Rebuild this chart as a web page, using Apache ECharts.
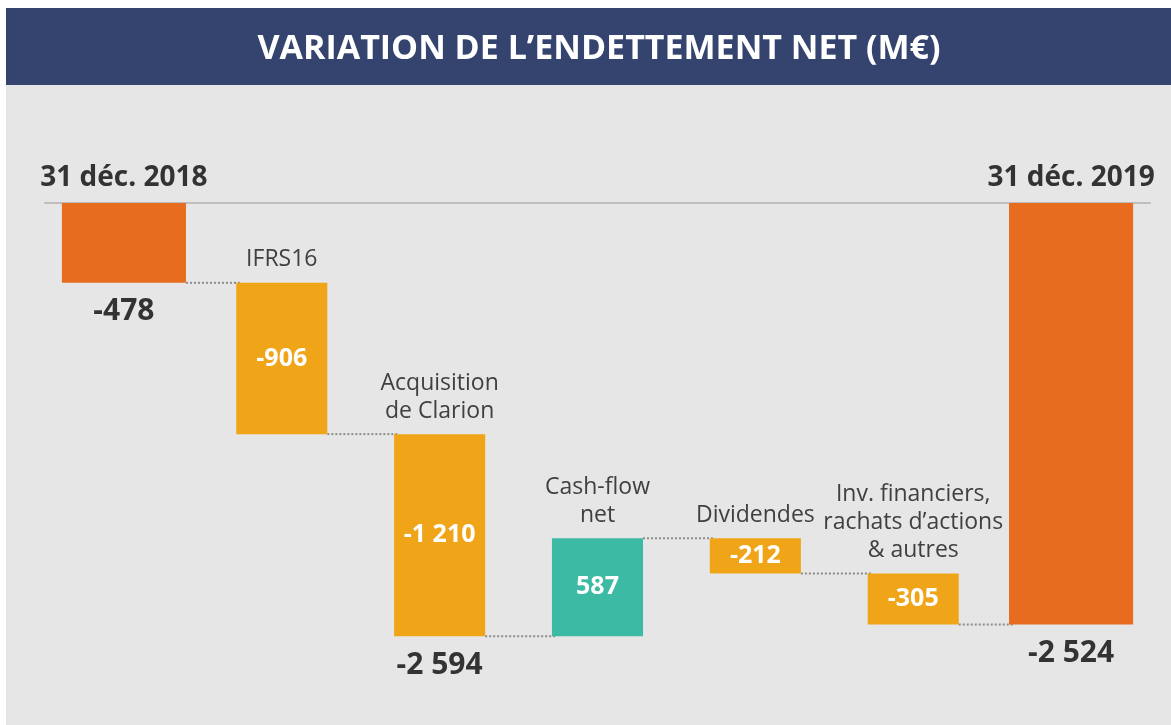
<!DOCTYPE html>
<html>
<head>
<meta charset="utf-8">
<script src="https://cdn.jsdelivr.net/npm/echarts@6/dist/echarts.min.js"></script>
<style>
  html, body { margin: 0; padding: 0; background: #ffffff; }
  #chart { width: 1171px; height: 725px; }
</style>
</head>
<body>
<div id="chart"></div>
<script>
  // données (M€)
  var categories = ['31 déc. 2018', 'IFRS16', 'Acquisition\nde Clarion', 'Cash-flow\nnet', 'Dividendes', 'Inv. financiers,\nrachats d’actions\n& autres', '31 déc. 2019'];
  var values = [-478, -906, -1210, 587, -212, -305, -2524];
  var isTotal = [true, false, false, false, false, false, true];
  var showRunning = [true, false, true, false, false, false, true]; // cumul affiché sous la barre

  var cOrange = '#E86C1F', cJaune = '#F0A518', cVert = '#3DBAA4';

  // bornes de chaque barre de la cascade
  var rows = [], cum = 0;
  for (var i = 0; i < values.length; i++) {
    var lo, hi;
    if (isTotal[i]) { lo = 0; hi = values[i]; cum = values[i]; }
    else { lo = cum; hi = cum + values[i]; cum = hi; }
    rows.push([i, lo, hi, cum]);
  }

  function fmt(v) {
    var s = String(Math.abs(v)).replace(/\B(?=(\d{3})+(?!\d))/g, ' ');
    return (v < 0 ? '-' : '') + s;
  }
  function ratio(i) { return isTotal[i] ? 0.786 : 0.577; }

  var font = '"Open Sans", "Noto Sans", sans-serif';

  var myChart = echarts.init(document.getElementById('chart'));
  var option = {
    backgroundColor: '#E6E6E6',
    animation: false,
    graphic: [
      { type: 'rect', shape: { x: 0, y: 0, width: 1171, height: 8 }, style: { fill: '#ffffff' } },
      { type: 'rect', shape: { x: 0, y: 0, width: 6, height: 725 }, style: { fill: '#ffffff' } },
      { type: 'rect', shape: { x: 6, y: 8, width: 1165, height: 77 }, style: { fill: '#34446F' } },
      {
        type: 'text', x: 599, y: 49,
        style: {
          text: 'VARIATION DE L’ENDETTEMENT NET (M€)',
          fill: '#ffffff', font: 'bold 34px ' + font,
          align: 'center', verticalAlign: 'middle'
        }
      }
    ],
    grid: { left: 45, width: 1105, top: 203, height: 501 },
    xAxis: {
      type: 'category',
      data: categories,
      axisLine: { show: true, lineStyle: { color: '#BEBEBE', width: 2 } },
      axisTick: { show: false },
      axisLabel: { show: false },
      splitLine: { show: false }
    },
    yAxis: {
      type: 'value', min: -3000, max: 0,
      show: false
    },
    series: [{
      type: 'custom',
      data: rows,
      encode: { x: 0, y: [1, 2] },
      renderItem: function (params, api) {
        var i = api.value(0), lo = api.value(1), hi = api.value(2), run = api.value(3);
        var pLo = api.coord([i, lo]), pHi = api.coord([i, hi]);
        var band = api.size([1, 0])[0];
        var w = band * ratio(i);
        var x = pLo[0] - w / 2;
        var yTop = Math.min(pLo[1], pHi[1]), yBot = Math.max(pLo[1], pHi[1]);
        var color = isTotal[i] ? cOrange : (values[i] < 0 ? cJaune : cVert);
        var children = [];

        // trait pointillé vers la barre suivante
        if (i < values.length - 1) {
          var pEnd = api.coord([i, run]);
          var pNext = api.coord([i + 1, run]);
          var wNext = band * ratio(i + 1);
          children.push({
            type: 'line',
            shape: { x1: x + w, y1: pEnd[1], x2: pNext[0] - wNext / 2 + 4, y2: pEnd[1] },
            style: { stroke: '#8C8C8C', lineWidth: 2, lineDash: [2, 2] }
          });
        }

        children.push({
          type: 'rect',
          shape: { x: x, y: yTop, width: w, height: yBot - yTop },
          style: { fill: color }
        });

        if (isTotal[i]) {
          children.push({
            type: 'text', x: pLo[0], y: api.coord([i, 0])[1] - 11,
            style: { text: categories[i], fill: '#333333', font: 'bold 28px ' + font, align: 'center', verticalAlign: 'bottom' }
          });
        } else {
          children.push({
            type: 'text', x: pLo[0], y: yTop - 9,
            style: { text: categories[i], fill: '#404040', font: '23px ' + font, lineHeight: 28, align: 'center', verticalAlign: 'bottom' }
          });
          children.push({
            type: 'text', x: pLo[0], y: (yTop + yBot) / 2,
            style: { text: fmt(values[i]), fill: '#ffffff', font: 'bold 25px ' + font, align: 'center', verticalAlign: 'middle' }
          });
        }
        if (showRunning[i]) {
          children.push({
            type: 'text', x: pLo[0], y: yBot + 14,
            style: { text: fmt(run), fill: '#333333', font: 'bold 30px ' + font, align: 'center', verticalAlign: 'top' }
          });
        }
        return { type: 'group', children: children };
      }
    }]
  };
  myChart.setOption(option);
</script>
</body>
</html>
